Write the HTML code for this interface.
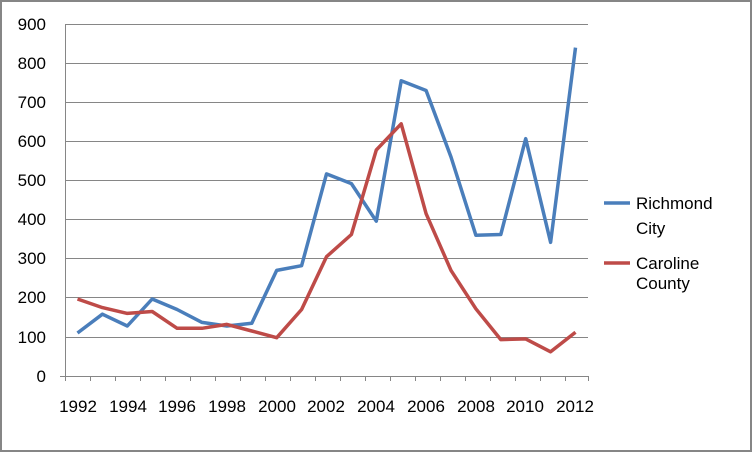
<!DOCTYPE html><html><head><style>body{margin:0}svg{display:block}text{font-family:"Liberation Sans",sans-serif;font-size:17px;fill:#000}</style></head><body>
<svg width="752" height="452" xmlns="http://www.w3.org/2000/svg">
<rect x="1" y="1" width="750" height="450" fill="#fff" stroke="#868686" stroke-width="2"/>
<g stroke="#868686" stroke-width="1">
<line x1="65" y1="24.5" x2="588" y2="24.5"/><line x1="65" y1="63.5" x2="588" y2="63.5"/><line x1="65" y1="102.5" x2="588" y2="102.5"/><line x1="65" y1="141.5" x2="588" y2="141.5"/><line x1="65" y1="180.5" x2="588" y2="180.5"/><line x1="65" y1="219.5" x2="588" y2="219.5"/><line x1="65" y1="258.5" x2="588" y2="258.5"/><line x1="65" y1="297.5" x2="588" y2="297.5"/><line x1="65" y1="337.5" x2="588" y2="337.5"/><line x1="60" y1="376.5" x2="588" y2="376.5"/>
<line x1="65.5" y1="24" x2="65.5" y2="381"/>
<path d="M90.5 376v5M115.5 376v5M140.5 376v5M165.5 376v5M190.5 376v5M215.5 376v5M240.5 376v5M265.5 376v5M290.5 376v5M315.5 376v5M340.5 376v5M365.5 376v5M390.5 376v5M415.5 376v5M440.5 376v5M465.5 376v5M490.5 376v5M515.5 376v5M540.5 376v5M565.5 376v5M588.5 376v5"/>
</g>
<g text-anchor="end"><text x="46" y="30">900</text><text x="46" y="69">800</text><text x="46" y="108">700</text><text x="46" y="147">600</text><text x="46" y="186">500</text><text x="46" y="225">400</text><text x="46" y="264">300</text><text x="46" y="303">200</text><text x="46" y="343">100</text><text x="46" y="382">0</text></g>
<g text-anchor="middle"><text x="78" y="412">1992</text><text x="128" y="412">1994</text><text x="177" y="412">1996</text><text x="227" y="412">1998</text><text x="277" y="412">2000</text><text x="326" y="412">2002</text><text x="376" y="412">2004</text><text x="426" y="412">2006</text><text x="476" y="412">2008</text><text x="525" y="412">2010</text><text x="575" y="412">2012</text></g>
<polyline fill="none" stroke="#4a7ebb" stroke-width="3.5" stroke-linejoin="round" points="77.5,333 102.4,314.2 127.3,326 152.2,299 177.1,309.5 202,322.4 226.9,326 251.8,323.2 276.7,270.4 301.6,265.7 326.5,173.9 351.4,183.6 376.3,221.2 401.2,80.8 426.1,90.5 451,157 475.9,235.3 500.8,234.5 525.7,138.7 550.6,242.3 575.5,47.6"/>
<polyline fill="none" stroke="#be4b48" stroke-width="3.5" stroke-linejoin="round" points="77.5,299 102.4,307.6 127.3,313.4 152.2,311.5 177.1,328.3 202,328.3 226.9,324.4 251.8,331 276.7,337.7 301.6,309.5 326.5,256.7 351.4,234.5 376.3,150 401.2,123.8 426.1,213.7 451,270.4 475.9,308.8 500.8,339.6 525.7,338.9 550.6,351.8 575.5,332.2"/>
<line x1="604" y1="203" x2="630" y2="203" stroke="#4a7ebb" stroke-width="3.5"/>
<line x1="604" y1="263" x2="630" y2="263" stroke="#be4b48" stroke-width="3.5"/>
<text x="636" y="209">Richmond</text><text x="636" y="234">City</text>
<text x="636" y="269">Caroline</text><text x="636" y="289">County</text>
</svg></body></html>
